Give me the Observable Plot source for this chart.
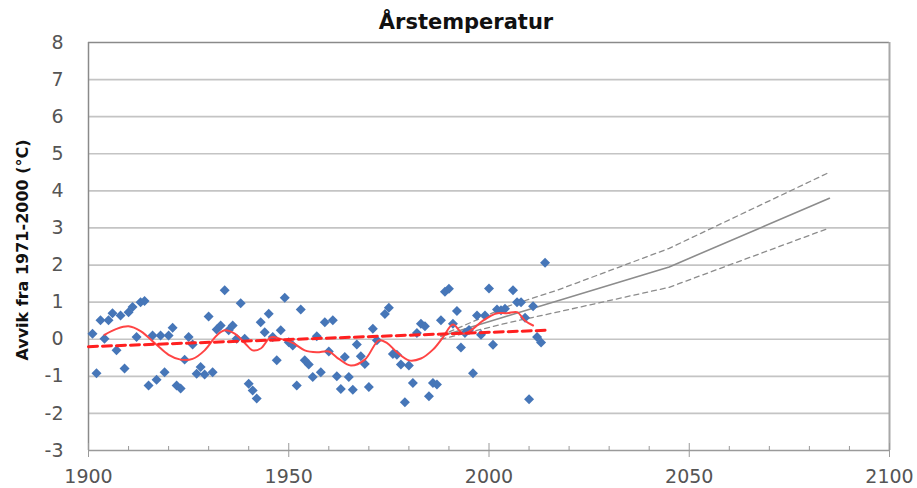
<!DOCTYPE html>
<html><head><meta charset="utf-8">
<script src="https://cdn.jsdelivr.net/npm/d3@7"></script>
<script src="https://cdn.jsdelivr.net/npm/@observablehq/plot@0.6"></script>
<style>html,body{margin:0;padding:0;background:#fff}#chart svg{display:block}</style>
</head><body><div id="chart"></div>
<script>
const titleText = "Årstemperatur";
const yLabelText = "Avvik fra 1971-2000 (°C)";
const xTicks = [1900, 1950, 2000, 2050, 2100];
const xMinorTicks = [1910,1920,1930,1940,1960,1970,1980,1990,2010,2020,2030,2040,2060,2070,2080,2090];
const yTicks = [-3,-2,-1,0,1,2,3,4,5,6,7,8];

// Observed annual anomalies
const obsYears = [
  1901,1902,1903,1904,1905,1906,1907,1908,1909,1910,
  1911,1912,1913,1914,1915,1916,1917,1918,1919,1920,
  1921,1922,1923,1924,1925,1926,1927,1928,1929,1930,
  1931,1932,1933,1934,1935,1936,1937,1938,1939,1940,
  1941,1942,1943,1944,1945,1946,1947,1948,1949,1950,
  1951,1952,1953,1954,1955,1956,1957,1958,1959,1960,
  1961,1962,1963,1964,1965,1966,1967,1968,1969,1970,
  1971,1972,1974,1975,1976,1977,1978,1979,1980,
  1981,1982,1983,1984,1985,1986,1987,1988,1989,1990,
  1991,1992,1993,1994,1995,1996,1997,1998,1999,2000,
  2001,2002,2003,2004,2006,2007,2008,2009,2010,
  2011,2012,2013,2014];
const obsValues = [
  0.15,-0.92,0.51,0.01,0.51,0.70,-0.30,0.64,-0.79,0.73,
  0.87,0.06,1.00,1.03,-1.25,0.10,-1.09,0.10,-0.89,0.10,
  0.31,-1.25,-1.33,-0.55,0.06,-0.14,-0.93,-0.75,-0.95,0.61,
  -0.89,0.26,0.37,1.32,0.24,0.37,0.01,0.97,0.01,-1.20,
  -1.38,-1.60,0.46,0.19,0.69,0.06,-0.57,0.24,1.12,-0.08,
  -0.17,-1.25,0.80,-0.57,-0.68,-1.02,0.08,-0.89,0.46,-0.33,
  0.51,-1.00,-1.34,-0.48,-1.02,-1.36,-0.14,-0.46,-0.67,-1.29,
  0.28,-0.03,0.68,0.85,-0.40,-0.42,-0.68,-1.70,-0.71,
  -1.18,0.17,0.42,0.35,-1.54,-1.18,-1.22,0.51,1.28,1.36,
  0.42,0.76,-0.22,0.17,0.25,-0.92,0.64,0.12,0.64,1.37,
  -0.15,0.80,0.78,0.82,1.32,1.00,1.00,0.58,-1.62,
  0.89,0.06,-0.09,2.06];

// Smoothed (low-pass) curve
const smoothYears = [1904,1907,1910,1913,1917,1920,1923,1926,1929,1932,1934,1936.5,1939,1941,1943,1945.5,1948,1951,1954,1957,1960,1962.5,1965.5,1969,1972.5,1974.5,1977,1980,1983,1986,1988.5,1991,1993.5,1996,1998.5,2002,2004.5,2007,2009,2011];
const smoothValues = [0.12,0.28,0.35,0.22,-0.15,-0.42,-0.55,-0.53,-0.3,0.1,0.24,0.15,-0.1,-0.3,-0.25,0.05,0.01,-0.1,-0.3,-0.35,-0.33,-0.53,-0.71,-0.55,-0.03,-0.1,-0.35,-0.57,-0.52,-0.28,0.05,0.4,0.15,0.28,0.5,0.7,0.7,0.73,0.5,0.37];

// Linear trend
const trendYears = [1900, 2014];
const trendValues = [-0.2, 0.24];

// Projections
const projYears = [1988, 2005, 2017, 2045, 2085];
const projMid  = [0.08, 0.64, 1.03, 1.95, 3.8];
const projHigh = [0.10, 0.90, 1.32, 2.45, 4.5];
const projLow  = [0.00, 0.45, 0.73, 1.40, 3.0];

const obs = obsYears.map((y, i) => ({year: y, value: obsValues[i]}));
const smooth = smoothYears.map((y, i) => ({year: y, value: smoothValues[i]}));
const trend = trendYears.map((y, i) => ({year: y, value: trendValues[i]}));
const proj = (arr) => projYears.map((y, i) => ({year: y, value: arr[i]}));

const chart = Plot.plot({
  width: 917, height: 488,
  marginLeft: 88, marginRight: 28, marginTop: 42, marginBottom: 38,
  style: {fontFamily: "DejaVu Sans", fontSize: "19px", color: "#555", background: "#fff", overflow: "visible"},
  x: {domain: [1900, 2100], label: null},
  y: {domain: [-3, 8], label: null},
  marks: [
    Plot.ruleY(yTicks.filter(v => v > -3 && v < 8), {stroke: "#c4c4c4", strokeWidth: 1.7}),
    Plot.ruleY([8], {stroke: "#8a8a8a", strokeWidth: 1.5}),
    Plot.ruleX([2100], {stroke: "#a8a8a8", strokeWidth: 2}),
    Plot.ruleX([1900], {stroke: "#8a8a8a", strokeWidth: 1.5}),
    Plot.ruleY([-3], {stroke: "#9a9a9a", strokeWidth: 1.5}),
    Plot.axisX({ticks: xMinorTicks, tickSize: -4, tickFormat: () => "", stroke: "#9a9a9a"}),
    Plot.axisX({ticks: xTicks, tickSize: -7, tickFormat: () => "", stroke: "#9a9a9a"}),
    Plot.axisX({ticks: xTicks, tickSize: 7, tickPadding: 12, tickFormat: d => String(d), stroke: "#9a9a9a", fontSize: 19, fill: "#555"}),
    Plot.axisY({ticks: yTicks, tickSize: 0, tickPadding: 25, tickFormat: d => String(d), fontSize: 19, fill: "#555"}),
    Plot.line(proj(projHigh), {x: "year", y: "value", stroke: "#8c8c8c", strokeWidth: 1.3, strokeDasharray: "5,4"}),
    Plot.line(proj(projLow), {x: "year", y: "value", stroke: "#8c8c8c", strokeWidth: 1.3, strokeDasharray: "5,4"}),
    Plot.line(proj(projMid), {x: "year", y: "value", stroke: "#8c8c8c", strokeWidth: 1.6}),
    Plot.dot(obs, {x: "year", y: "value", symbol: "diamond2", r: 4.5, fill: "#4676b8", stroke: "none"}),
    Plot.line(smooth, {x: "year", y: "value", stroke: "#f44", strokeWidth: 2, curve: "catmull-rom"}),
    Plot.line(trend, {x: "year", y: "value", stroke: "#ff2020", strokeWidth: 3, strokeDasharray: "9,5"})
  ]
});

const svg = d3.select(chart);
svg.append("text")
  .attr("x", 466).attr("y", 28.5)
  .attr("text-anchor", "middle")
  .attr("font-family", "DejaVu Sans").attr("font-weight", "bold").attr("font-size", 21)
  .attr("fill", "#111")
  .text(titleText);
svg.append("text")
  .attr("transform", "translate(22,250) rotate(-90)")
  .attr("text-anchor", "middle").attr("dominant-baseline", "central")
  .attr("font-family", "DejaVu Sans").attr("font-weight", "bold").attr("font-size", 16)
  .attr("fill", "#111")
  .text(yLabelText);

document.getElementById("chart").appendChild(chart);
</script>
</body></html>
